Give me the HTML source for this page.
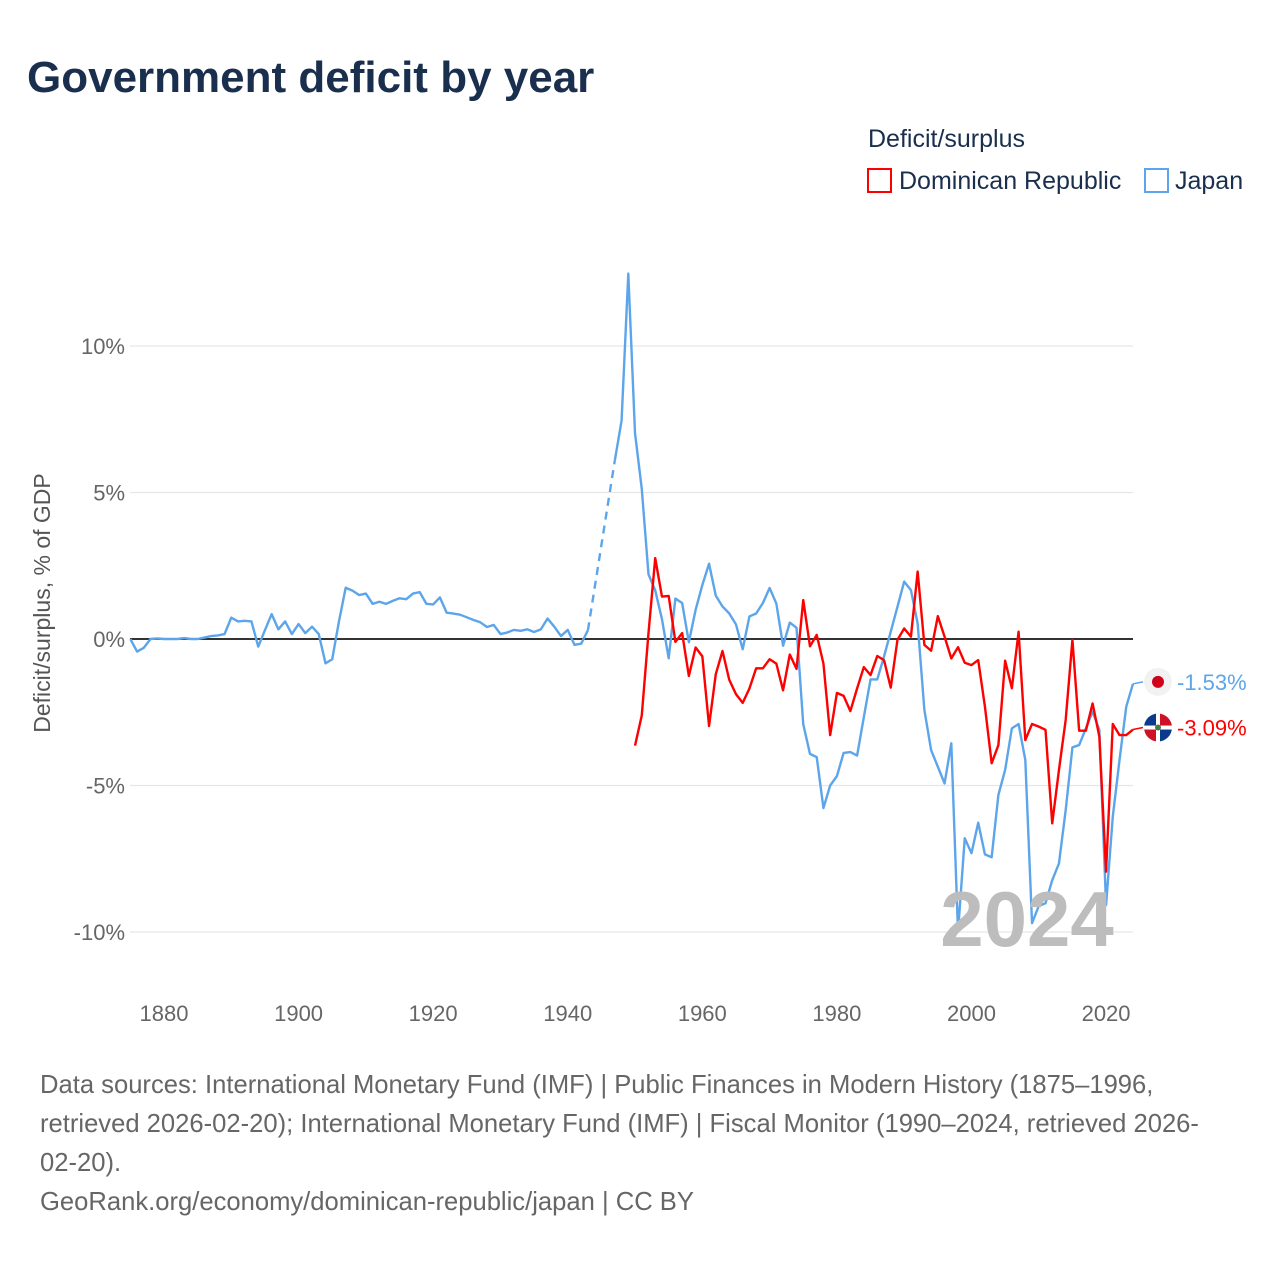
<!DOCTYPE html>
<html><head><meta charset="utf-8"><style>
body{margin:0;background:#fff;font-family:"Liberation Sans",sans-serif;}
svg text{font-family:"Liberation Sans",sans-serif;}
</style></head><body>
<svg id="chart" width="1280" height="1280" xmlns="http://www.w3.org/2000/svg">
<text x="27" y="92" font-size="44" font-weight="bold" fill="#1a2f4e">Government deficit by year</text>
<text x="868" y="147" font-size="25" fill="#1a2f4e">Deficit/surplus</text>
<g><rect x="868" y="169" width="23" height="23" fill="none" stroke="#ff0000" stroke-width="2"/><text x="899" y="189" font-size="25" fill="#1a2f4e">Dominican Republic</text></g>
<g><rect x="1145" y="169" width="23" height="23" fill="none" stroke="#5da5ea" stroke-width="2"/><text x="1175" y="189" font-size="25" fill="#1a2f4e">Japan</text></g>
<text transform="translate(50,603) rotate(-90)" text-anchor="middle" font-size="23" fill="#555">Deficit/surplus, % of GDP</text>
<g id="grid"></g><g id="series"></g>
<text x="1027" y="946" text-anchor="middle" font-size="78" font-weight="bold" fill="#bdbdbd">2024</text>
<g id="ends"></g>
<g font-size="25.6" fill="#666">
<text x="40" y="1093">Data sources: International Monetary Fund (IMF) | Public Finances in Modern History (1875–1996,</text>
<text x="40" y="1132">retrieved 2026-02-20); International Monetary Fund (IMF) | Fiscal Monitor (1990–2024, retrieved 2026-</text>
<text x="40" y="1171">02-20).</text>
<text x="40" y="1210">GeoRank.org/economy/dominican-republic/japan | CC BY</text>
</g>
</svg>
<script>
const xTicks=[1880,1900,1920,1940,1960,1980,2000,2020];
const yTicks=[10,5,0,-5,-10];
const yTickLabels=["10%","5%","0%","-5%","-10%"];
const japanYears=[1875,1876,1877,1878,1879,1880,1881,1882,1883,1884,1885,1886,1887,1888,1889,1890,1891,1892,1893,1894,1895,1896,1897,1898,1899,1900,1901,1902,1903,1904,1905,1906,1907,1908,1909,1910,1911,1912,1913,1914,1915,1916,1917,1918,1919,1920,1921,1922,1923,1924,1925,1926,1927,1928,1929,1930,1931,1932,1933,1934,1935,1936,1937,1938,1939,1940,1941,1942,1943];
const japanValues=[0,-0.43,-0.3,0,0.02,0,0,0,0.03,0,0,0.05,0.1,0.12,0.17,0.73,0.6,0.62,0.6,-0.26,0.3,0.85,0.33,0.6,0.17,0.51,0.2,0.42,0.17,-0.83,-0.69,0.6,1.75,1.65,1.5,1.55,1.2,1.27,1.2,1.3,1.39,1.36,1.55,1.6,1.2,1.18,1.42,0.9,0.87,0.83,0.74,0.65,0.57,0.41,0.48,0.17,0.22,0.31,0.28,0.33,0.24,0.33,0.7,0.42,0.1,0.31,-0.2,-0.16,0.3];
const japanGapYears=[1943,1947];
const japanGapValues=[0.3,6.1];
const japanYears2=[1947,1948,1949,1950,1951,1952,1953,1954,1955,1956,1957,1958,1959,1960,1961,1962,1963,1964,1965,1966,1967,1968,1969,1970,1971,1972,1973,1974,1975,1976,1977,1978,1979,1980,1981,1982,1983,1984,1985,1986,1987,1988,1989,1990,1991,1992,1993,1994,1995,1996,1997,1998,1999,2000,2001,2002,2003,2004,2005,2006,2007,2008,2009,2010,2011,2012,2013,2014,2015,2016,2017,2018,2019,2020,2021,2022,2023,2024];
const japanValues2=[6.1,7.45,12.47,7.02,5.13,2.21,1.66,0.68,-0.66,1.38,1.23,-0.11,0.99,1.84,2.57,1.48,1.11,0.87,0.5,-0.35,0.77,0.87,1.23,1.74,1.21,-0.23,0.56,0.38,-2.91,-3.92,-4.03,-5.77,-5.0,-4.68,-3.89,-3.86,-3.98,-2.67,-1.38,-1.38,-0.6,0.25,1.1,1.96,1.67,0.53,-2.42,-3.79,-4.36,-4.93,-3.56,-9.99,-6.8,-7.31,-6.27,-7.35,-7.45,-5.32,-4.47,-3.05,-2.9,-4.13,-9.7,-9.11,-9.02,-8.23,-7.66,-5.84,-3.7,-3.62,-3.05,-2.48,-3.1,-9.08,-6.06,-4.13,-2.31,-1.53];
const drYears=[1950,1951,1952,1953,1954,1955,1956,1957,1958,1959,1960,1961,1962,1963,1964,1965,1966,1967,1968,1969,1970,1971,1972,1973,1974,1975,1976,1977,1978,1979,1980,1981,1982,1983,1984,1985,1986,1987,1988,1989,1990,1991,1992,1993,1994,1995,1996,1997,1998,1999,2000,2001,2002,2003,2004,2005,2006,2007,2008,2009,2010,2011,2012,2013,2014,2015,2016,2017,2018,2019,2020,2021,2022,2023,2024];
const drValues=[-3.64,-2.61,0.2,2.76,1.45,1.47,-0.1,0.2,-1.26,-0.29,-0.59,-2.97,-1.2,-0.41,-1.39,-1.88,-2.18,-1.69,-1.0,-1.0,-0.69,-0.84,-1.75,-0.53,-1.02,1.33,-0.25,0.14,-0.84,-3.28,-1.84,-1.94,-2.46,-1.69,-0.96,-1.23,-0.58,-0.72,-1.66,-0.03,0.36,0.08,2.3,-0.2,-0.4,0.78,0.08,-0.66,-0.28,-0.81,-0.89,-0.72,-2.31,-4.24,-3.62,-0.74,-1.68,0.25,-3.45,-2.9,-2.99,-3.1,-6.29,-4.47,-2.76,-0.03,-3.13,-3.13,-2.2,-3.33,-7.94,-2.9,-3.28,-3.28,-3.09];
const X=y=>164+(y-1880)*6.729;
const Y=v=>639-v*29.3;
const NS="http://www.w3.org/2000/svg";
function mk(t,a,p){const e=document.createElementNS(NS,t);for(const k in a)e.setAttribute(k,a[k]);p.appendChild(e);return e;}
const grid=document.getElementById('grid'),ser=document.getElementById('series'),ends=document.getElementById('ends');
yTicks.forEach((v,i)=>{
 const l=mk('line',{x1:130,x2:1133,y1:Y(v),y2:Y(v),stroke:v===0?'#333':'#e6e6e6','stroke-width':v===0?2:1.2},grid);
 
 
 const t=mk('text',{x:125,y:Y(v)+8,'text-anchor':'end','font-size':22,fill:'#666'},grid);t.textContent=yTickLabels[i];
 
 
});
xTicks.forEach(y=>{
 const t=mk('text',{x:X(y),y:1021,'text-anchor':'middle','font-size':22,fill:'#666'},grid);t.textContent=y;
 
 
});
function line(ys,vs,col,name,dash){
 const p=mk('polyline',{points:ys.map((y,i)=>X(y)+','+Y(vs[i])).join(' '),fill:'none',stroke:col,'stroke-width':2.4,'stroke-linejoin':'round'},ser);
 if(dash)p.setAttribute('stroke-dasharray','8,6');
 
 
}
line(japanYears,japanValues,'#5da5ea','japan-line-early');
line(japanGapYears,japanGapValues,'#5da5ea','japan-line-gap',true);
line(japanYears2,japanValues2,'#5da5ea','japan-line');
line(drYears,drValues,'#ff0000','dominican-republic-line');
const jl=japanValues2[japanValues2.length-1],dl=drValues[drValues.length-1];
const jy=Y(jl)-2,dy=Y(dl)-2;
mk('line',{x1:1133,x2:1143,y1:Y(jl),y2:jy,stroke:'#5da5ea','stroke-width':1.5},ends);
mk('line',{x1:1133,x2:1143,y1:Y(dl),y2:dy,stroke:'#ff0000','stroke-width':1.5},ends);
const jf=mk('g',{},ends);


mk('circle',{cx:1158,cy:jy,r:14,fill:'#f2f2f2'},jf);mk('circle',{cx:1158,cy:jy,r:6,fill:'#d0021b'},jf);
const df=mk('g',{},ends);


mk('path',{d:`M1158 ${dy} L1158 ${dy-14} A14 14 0 0 0 1144 ${dy} Z`,fill:'#0b3a8c'},df);
mk('path',{d:`M1158 ${dy} L1172 ${dy} A14 14 0 0 0 1158 ${dy-14} Z`,fill:'#ce1126'},df);
mk('path',{d:`M1158 ${dy} L1144 ${dy} A14 14 0 0 0 1158 ${dy+14} Z`,fill:'#ce1126'},df);
mk('path',{d:`M1158 ${dy} L1158 ${dy+14} A14 14 0 0 0 1172 ${dy} Z`,fill:'#0b3a8c'},df);
mk('rect',{x:1144,y:dy-2,width:28,height:4,fill:'#fff'},df);mk('rect',{x:1156,y:dy-14,width:4,height:28,fill:'#fff'},df);
mk('circle',{cx:1158,cy:dy,r:3,fill:'#4a7a4a'},df);
const tj=mk('text',{x:1177,y:jy+8,'font-size':22,fill:'#5da5ea'},ends);tj.textContent=jl.toFixed(2)+'%';


const td=mk('text',{x:1177,y:dy+8,'font-size':22,fill:'#ff0000'},ends);td.textContent=dl.toFixed(2)+'%';


</script>
</body></html>
